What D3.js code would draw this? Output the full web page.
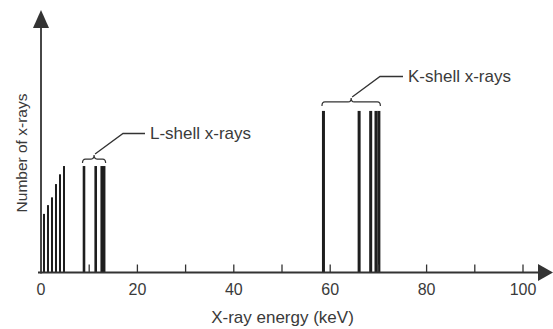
<!DOCTYPE html>
<html><head><meta charset="utf-8">
<script src="https://cdn.jsdelivr.net/npm/d3@7"></script>
<style>body{margin:0;background:#fff}svg{display:block}text{font-family:"Liberation Sans",Arial,sans-serif;fill:#3a3a3a}</style>
</head><body>
<svg id="c" width="553" height="329"></svg>
<script>
// Data (energies in keV, counts in arbitrary units)
const lowEnergies = [0.62, 1.45, 2.28, 3.11, 3.94, 4.77];
const lowCounts   = [23.4, 26.9, 30.0, 35.3, 39.2, 42.5];
const lShellEnergies = [8.92, 11.35, 12.6, 13.1];
const lShellCounts   = [42.5, 42.5, 42.5, 42.5];
const kShellEnergies = [58.6, 66.0, 68.4, 69.5, 70.1];
const kShellCounts   = [64.5, 64.5, 64.5, 64.5, 64.5];
const tickValues = [0, 20, 40, 60, 80, 100];
const minorTicks = [10, 20, 30, 40, 50, 60, 70, 80, 90, 100];
const xTitle = "X-ray energy (keV)";
const yTitle = "Number of x-rays";
const lLabel = "L-shell x-rays";
const kLabel = "K-shell x-rays";

const svg = d3.select("#c");
const x = d3.scaleLinear().domain([0, 100]).range([41, 523]);
const y = d3.scaleLinear().domain([0, 100]).range([272.5, 22]);
const ink = "#1e1e1e", axisCol = "#333";

// bars
function bars(E, C, w) {
  svg.append("g").selectAll("rect").data(E).join("rect")
    .attr("x", d => x(d) - w / 2).attr("width", w)
    .attr("y", (d, i) => y(C[i])).attr("height", (d, i) => y(0) - y(C[i]))
    .attr("fill", ink);
}
bars(lowEnergies, lowCounts, 2);
bars(lShellEnergies, lShellCounts, 2.6);
bars(kShellEnergies, kShellCounts, 3);

// minor ticks (pointing up)
svg.append("g").selectAll("line").data(minorTicks).join("line")
  .attr("x1", d => x(d)).attr("x2", d => x(d))
  .attr("y1", y(0)).attr("y2", y(0) - 8)
  .attr("stroke", axisCol).attr("stroke-width", 1.3);

// x axis line + arrow
svg.append("line").attr("x1", 38).attr("x2", 540).attr("y1", y(0)).attr("y2", y(0))
  .attr("stroke", axisCol).attr("stroke-width", 1.8);
svg.append("path").attr("d", `M538,${y(0) - 8.5} L553,${y(0)} L538,${y(0) + 8.5} Z`).attr("fill", axisCol);

// y axis line + arrow
svg.append("line").attr("x1", x(0)).attr("x2", x(0)).attr("y1", y(0) + 1).attr("y2", 25)
  .attr("stroke", axisCol).attr("stroke-width", 1.8);
svg.append("path").attr("d", `M${x(0) - 8},28 L${x(0)},10 L${x(0) + 8},28 Z`).attr("fill", axisCol);

// tick labels
svg.append("g").selectAll("text").data(tickValues).join("text")
  .attr("x", d => x(d)).attr("y", 295).attr("text-anchor", "middle")
  .attr("font-size", 16).text(d => d);

// axis titles
svg.append("text").attr("x", 282.5).attr("y", 323).attr("text-anchor", "middle")
  .attr("font-size", 17).text(xTitle);
svg.append("text").attr("transform", "translate(27,153) rotate(-90)").attr("text-anchor", "middle")
  .attr("font-size", 15.5).text(yTitle);

// braces + leaders
function brace(x0, x1, yb, h) {
  const m = (x0 + x1) / 2, ym = yb - h / 2;
  return `M${x0},${yb} Q${x0},${ym} ${x0 + 3},${ym} L${m - 3},${ym} Q${m},${ym} ${m},${yb - h} ` +
         `Q${m},${ym} ${m + 3},${ym} L${x1 - 3},${ym} Q${x1},${ym} ${x1},${yb}`;
}
function annotate(E, C, gap, elbowX, elbowY, endX, label) {
  const x0 = x(d3.min(E)) - 1.5, x1 = x(d3.max(E)) + 1.5;
  const yb = y(d3.max(C)) - gap;
  const h = 8, m = (x0 + x1) / 2;
  svg.append("path").attr("d", brace(x0, x1, yb, h)).attr("fill", "none")
    .attr("stroke", axisCol).attr("stroke-width", 1.2);
  svg.append("path").attr("d", `M${m + 1},${yb - h - 1} L${elbowX},${elbowY} L${endX},${elbowY}`)
    .attr("fill", "none").attr("stroke", axisCol).attr("stroke-width", 1.3);
  svg.append("text").attr("x", endX + 5).attr("y", elbowY + 5.5).attr("font-size", 17).text(label);
}
annotate(lShellEnergies, lShellCounts, 3, 123, 133.5, 145, lLabel);
annotate(kShellEnergies, kShellCounts, 5, 380, 76.5, 403, kLabel);
</script>
</body></html>
